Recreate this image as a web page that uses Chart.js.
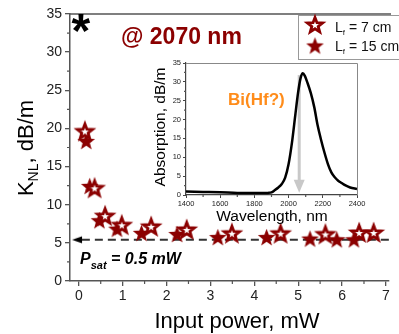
<!DOCTYPE html>
<html><head><meta charset="utf-8">
<script src="https://cdn.jsdelivr.net/npm/chart.js@4/dist/chart.umd.min.js"></script>
<style>
html,body{margin:0;padding:0;background:#fff;}
#wrap{position:relative;width:399px;height:334px;overflow:hidden;background:#fff;}
#wrap canvas{position:absolute;left:0;top:0;}
</style></head><body>
<div id="wrap"><canvas id="main" width="399" height="334"></canvas><canvas id="inset" width="399" height="334"></canvas></div>
<script>
// ---- Main chart data ----
const power7  = [0.14, 0.36, 0.60, 0.98, 1.65, 2.46, 3.49, 4.60, 5.62, 6.39, 6.72];
const k7      = [19.6, 12.15, 8.5, 7.3, 7.1, 6.7, 6.2, 6.2, 6.1, 6.3, 6.3];
const power15 = [0.17, 0.25, 0.47, 0.87, 1.43, 2.24, 3.17, 4.28, 5.27, 5.88, 6.27];
const k15     = [18.3, 12.4, 7.9, 6.8, 6.25, 6.1, 5.7, 5.7, 5.5, 5.4, 5.4];
const satLevel = 5.4;
const satLineX = [0.07, 7.07];
const satArrowX = -0.04;
const asteriskPoint = {x: 0.05, y: 33.8};
const xTicksMain = [0, 1, 2, 3, 4, 5, 6, 7];
const yTicksMain = [0, 5, 10, 15, 20, 25, 30, 35];
const seriesLabels = ['= 7 cm', '= 15 cm'];

// ---- Inset data ----
const wavelengths = [1400,1500,1600,1700,1800,1850,1880,1900,1920,1940,1960,1980,2000,2020,2040,2055,2070,2083,2095,2110,2130,2150,2170,2190,2210,2230,2250,2270,2290,2310,2330,2360,2400];
const absorption  = [0.9, 0.8, 0.7, 0.55,0.5, 0.5, 0.55,0.7, 1.3, 2.0, 2.9, 4.6, 8.2, 14.0,21.5,27.0,31.0,32.3,31.6,29.8,27.0,23.3,18.4,14.6,11.2,8.2, 6.0, 4.7, 3.8, 3.2, 2.6, 2.0, 1.6];
const xTicksInset = [1400, 1600, 1800, 2000, 2200, 2400];
const yTicksInset = [0, 5, 10, 15, 20, 25, 30, 35];
const peakArrow = {x: 2062, yTop: 31.8, yTip: 0.6};
const peakLabel = {x: 1646, y: 23.9, text: 'Bi(Hf?)'};

const RED = '#8B0000';
const FONT = 'Arial, "Liberation Sans", sans-serif';

function makeStar(R, ratio, fill, stroke, lw) {
  const size = Math.ceil(2 * (R + lw) + 4);
  const c = document.createElement('canvas');
  c.width = c.height = size;
  const g = c.getContext('2d');
  const cx = size / 2, cy = size / 2 + R * 0.05;
  g.beginPath();
  for (let i = 0; i < 10; i++) {
    const a = -Math.PI / 2 + i * Math.PI / 5;
    const rad = i % 2 ? R * ratio : R;
    const px = cx + rad * Math.cos(a), py = cy + rad * Math.sin(a);
    if (i === 0) g.moveTo(px, py); else g.lineTo(px, py);
  }
  g.closePath();
  g.fillStyle = fill; g.fill();
  if (stroke) { g.lineJoin = 'miter'; g.lineWidth = lw; g.strokeStyle = stroke; g.stroke(); }
  return c;
}
const openStar = makeStar(8.0, 0.42, '#fff', RED, 2.8);
const filledStar = makeStar(9.2, 0.42, RED, null, 0);

function makeLeftTri() {
  const c = document.createElement('canvas');
  c.width = 12; c.height = 10;
  const g = c.getContext('2d');
  g.beginPath(); g.moveTo(1, 5); g.lineTo(11, 1.5); g.lineTo(11, 8.5); g.closePath();
  g.fillStyle = '#000'; g.fill();
  return c;
}
const leftTri = makeLeftTri();

function minorTicks(ctx, scale, values, len, horizontal) {
  ctx.save();
  ctx.strokeStyle = '#555'; ctx.lineWidth = 1.2;
  ctx.beginPath();
  values.forEach(v => {
    const p = scale.getPixelForValue(v);
    if (horizontal) { ctx.moveTo(p, scale.top); ctx.lineTo(p, scale.top + len); }
    else { ctx.moveTo(scale.right, p); ctx.lineTo(scale.right - len, p); }
  });
  ctx.stroke();
  ctx.restore();
}

const mainDecor = {
  id: 'mainDecor',
  afterDraw(chart) {
    const ctx = chart.ctx, a = chart.chartArea;
    const xs = chart.scales.x, ys = chart.scales.y;
    ctx.save();
    // top border
    ctx.strokeStyle = '#555'; ctx.lineWidth = 1.5;
    ctx.beginPath(); ctx.moveTo(a.left, a.top); ctx.lineTo(a.right + 2, a.top); ctx.stroke();
    // minor ticks
    const mx = []; for (let v = 0.5; v < 7; v += 1) mx.push(v);
    const my = []; for (let v = 2.5; v < 35; v += 5) my.push(v);
    minorTicks(ctx, xs, mx, 3, true);
    minorTicks(ctx, ys, my, 3, false);

    // asterisk
    ctx.fillStyle = '#000';
    ctx.font = 'bold 48px ' + FONT;
    const m = ctx.measureText('*');
    const ax = xs.getPixelForValue(asteriskPoint.x), ay = ys.getPixelForValue(asteriskPoint.y);
    const gw = m.actualBoundingBoxLeft + m.actualBoundingBoxRight;
    const gh = m.actualBoundingBoxAscent + m.actualBoundingBoxDescent;
    ctx.textBaseline = 'alphabetic'; ctx.textAlign = 'left';
    ctx.fillText('*', ax - gw / 2 + m.actualBoundingBoxLeft, ay + gh / 2 - m.actualBoundingBoxDescent);

    // @ 2070 nm
    ctx.fillStyle = RED;
    ctx.font = 'bold 23px ' + FONT;
    ctx.fillText('@ 2070 nm', 121, 44);

    // P_sat = 0.5 mW
    ctx.fillStyle = '#000';
    let x = 80; const by = 263.5;
    ctx.font = 'italic bold 16px ' + FONT;
    ctx.fillText('P', x, by); x += ctx.measureText('P').width;
    ctx.font = 'italic bold 11px ' + FONT;
    ctx.fillText('sat', x, by + 5); x += ctx.measureText('sat').width;
    ctx.font = 'italic bold 16px ' + FONT;
    ctx.fillText(' = 0.5 mW', x, by);

    // x-axis title
    ctx.font = '22px ' + FONT;
    ctx.textAlign = 'center';
    ctx.fillText('Input power, mW', 237, 328);

    // y-axis title (rotated) K_NL, dB/m
    ctx.save();
    ctx.translate(33, 148);
    ctx.rotate(-Math.PI / 2);
    ctx.textAlign = 'left';
    const big = '22px ' + FONT, small = '14px ' + FONT;
    ctx.font = big; const wK = ctx.measureText('K').width;
    ctx.font = small; const wNL = ctx.measureText('NL').width;
    ctx.font = big; const wRest = ctx.measureText(', dB/m').width;
    let tx = -(wK + wNL + wRest) / 2;
    ctx.font = big; ctx.fillText('K', tx, 0); tx += wK;
    ctx.font = small; ctx.fillText('NL', tx, 5); tx += wNL;
    ctx.font = big; ctx.fillText(', dB/m', tx, 0);
    ctx.restore();

    // legend
    ctx.textAlign = 'left';
    ctx.fillStyle = '#fff';
    ctx.fillRect(298, 15.5, 110, 44);
    ctx.strokeStyle = '#999'; ctx.lineWidth = 1;
    ctx.strokeRect(298.5, 15.5, 110, 44);
    ctx.drawImage(openStar, 315 - openStar.width / 2, 25 - openStar.height / 2);
    ctx.drawImage(filledStar, 315 - filledStar.width / 2, 46 - filledStar.height / 2);
    ctx.fillStyle = '#111';
    [[31.5, seriesLabels[0]], [50.8, seriesLabels[1]]].forEach(([yb, t]) => {
      let lx = 335;
      ctx.font = '14px ' + FONT; ctx.fillText('L', lx, yb); lx += ctx.measureText('L').width;
      ctx.font = '8px ' + FONT; ctx.fillText('f', lx, yb + 3); lx += ctx.measureText('f').width;
      ctx.font = '14px ' + FONT; ctx.fillText(' ' + t, lx, yb);
    });
    ctx.restore();
  }
};

const tickFontMain = {family: FONT, size: 14};
new Chart(document.getElementById('main'), {
  type: 'scatter',
  data: {
    datasets: [
      {label: 'Lf = 7 cm', data: power7.map((x, i) => ({x, y: k7[i]})), pointStyle: openStar, pointRadius: 9, pointHoverRadius: 9, order: 0},
      {label: 'Lf = 15 cm', data: power15.map((x, i) => ({x, y: k15[i]})), pointStyle: filledStar, pointRadius: 9, pointHoverRadius: 9, order: 1},
      {label: 'sat', data: satLineX.map(x => ({x, y: satLevel})), showLine: true, borderColor: '#333', borderWidth: 2, borderDash: [8, 5], pointRadius: 0, order: 3},
      {label: 'arrow', data: [{x: satArrowX, y: satLevel}], pointStyle: leftTri, pointRadius: 6, order: 2, clip: false}
    ]
  },
  options: {
    animation: false, responsive: false, devicePixelRatio: 1,
    layout: {padding: {top: 14, left: 0, right: 0, bottom: 0}},
    plugins: {legend: {display: false}, tooltip: {enabled: false}},
    scales: {
      x: {
        type: 'linear', min: -0.2, max: 7.07,
        afterBuildTicks: s => { s.ticks = xTicksMain.map(v => ({value: v})); },
        afterFit: s => { s.height = 53; },
        ticks: {font: tickFontMain, color: '#222', padding: 2, maxRotation: 0, autoSkip: false, callback: v => String(v)},
        grid: {display: true, drawOnChartArea: false, drawTicks: true, tickLength: 5, color: '#555', lineWidth: 1.3},
        border: {display: true, color: '#555', width: 1.5}
      },
      y: {
        type: 'linear', min: 0, max: 35,
        afterBuildTicks: s => { s.ticks = yTicksMain.map(v => ({value: v})); },
        afterFit: s => { s.width = 70; },
        ticks: {font: tickFontMain, color: '#222', padding: 3, callback: v => String(v)},
        grid: {display: true, drawOnChartArea: false, drawTicks: true, tickLength: 5, color: '#555', lineWidth: 1.3},
        border: {display: true, color: '#555', width: 1.5}
      }
    }
  },
  plugins: [mainDecor]
});

const insetDecor = {
  id: 'insetDecor',
  beforeDraw(chart) {
    const ctx = chart.ctx, a = chart.chartArea;
    ctx.save(); ctx.fillStyle = '#fff';
    ctx.fillRect(a.left, a.top, a.right - a.left, a.bottom - a.top);
    ctx.restore();
  },
  beforeDatasetsDraw(chart) {
    const ctx = chart.ctx, xs = chart.scales.x, ys = chart.scales.y;
    const px = xs.getPixelForValue(peakArrow.x);
    const pt = ys.getPixelForValue(peakArrow.yTop), pb = ys.getPixelForValue(peakArrow.yTip);
    ctx.save();
    ctx.strokeStyle = '#c8c8c8'; ctx.lineWidth = 3;
    ctx.beginPath(); ctx.moveTo(px, pt); ctx.lineTo(px, pb - 10); ctx.stroke();
    ctx.fillStyle = '#c8c8c8';
    ctx.beginPath(); ctx.moveTo(px - 5.5, pb - 13); ctx.lineTo(px + 5.5, pb - 13); ctx.lineTo(px, pb); ctx.closePath(); ctx.fill();
    ctx.restore();
  },
  afterDraw(chart) {
    const ctx = chart.ctx, a = chart.chartArea, xs = chart.scales.x, ys = chart.scales.y;
    ctx.save();
    // frame top/right
    ctx.strokeStyle = '#888'; ctx.lineWidth = 1;
    ctx.beginPath(); ctx.moveTo(a.left, a.top + 0.5); ctx.lineTo(a.right + 0.5, a.top + 0.5); ctx.lineTo(a.right + 0.5, a.bottom); ctx.stroke();
    // minor ticks
    const mx = []; for (let v = 1500; v < 2400; v += 200) mx.push(v);
    const my = []; for (let v = 2.5; v < 35; v += 5) my.push(v);
    minorTicks(ctx, xs, mx, 2, true);
    minorTicks(ctx, ys, my, 2, false);
    // label
    ctx.fillStyle = '#FF8C1A';
    ctx.font = 'bold 17px ' + FONT;
    ctx.textAlign = 'left'; ctx.textBaseline = 'alphabetic';
    ctx.fillText(peakLabel.text, xs.getPixelForValue(peakLabel.x), ys.getPixelForValue(peakLabel.y));
    // axis titles
    ctx.fillStyle = '#000';
    ctx.font = '15.5px ' + FONT;
    ctx.textAlign = 'center';
    ctx.fillText('Wavelength, nm', 272, 221);
    ctx.save();
    ctx.translate(165, 127); ctx.rotate(-Math.PI / 2);
    ctx.fillText('Absorption, dB/m', 0, 0);
    ctx.restore();
    ctx.restore();
  }
};

const tickFontInset = {family: FONT, size: 7.5};
new Chart(document.getElementById('inset'), {
  type: 'line',
  data: {datasets: [{data: wavelengths.map((w, i) => ({x: w, y: absorption[i]})), borderColor: '#000', borderWidth: 2.5, pointRadius: 0, tension: 0.4, cubicInterpolationMode: 'monotone', fill: false}]},
  options: {
    animation: false, responsive: false, devicePixelRatio: 1,
    layout: {padding: {left: 164, right: 42, top: 63, bottom: 125}},
    plugins: {legend: {display: false}, tooltip: {enabled: false}},
    scales: {
      x: {
        type: 'linear', min: 1400, max: 2400,
        afterBuildTicks: s => { s.ticks = xTicksInset.map(v => ({value: v})); },
        afterFit: s => { s.height = 14; },
        ticks: {font: tickFontInset, color: '#222', padding: 1, maxRotation: 0, autoSkip: false, callback: v => String(v)},
        grid: {display: true, drawOnChartArea: false, tickLength: 3, color: '#444', lineWidth: 1},
        border: {display: true, color: '#444', width: 1.2}
      },
      y: {
        type: 'linear', min: 0, max: 35,
        afterBuildTicks: s => { s.ticks = yTicksInset.map(v => ({value: v})); },
        afterFit: s => { s.width = 22; },
        ticks: {font: tickFontInset, color: '#222', padding: 2, callback: v => String(v)},
        grid: {display: true, drawOnChartArea: false, tickLength: 3, color: '#444', lineWidth: 1},
        border: {display: true, color: '#444', width: 1.2}
      }
    }
  },
  plugins: [insetDecor]
});
</script>
</body></html>
